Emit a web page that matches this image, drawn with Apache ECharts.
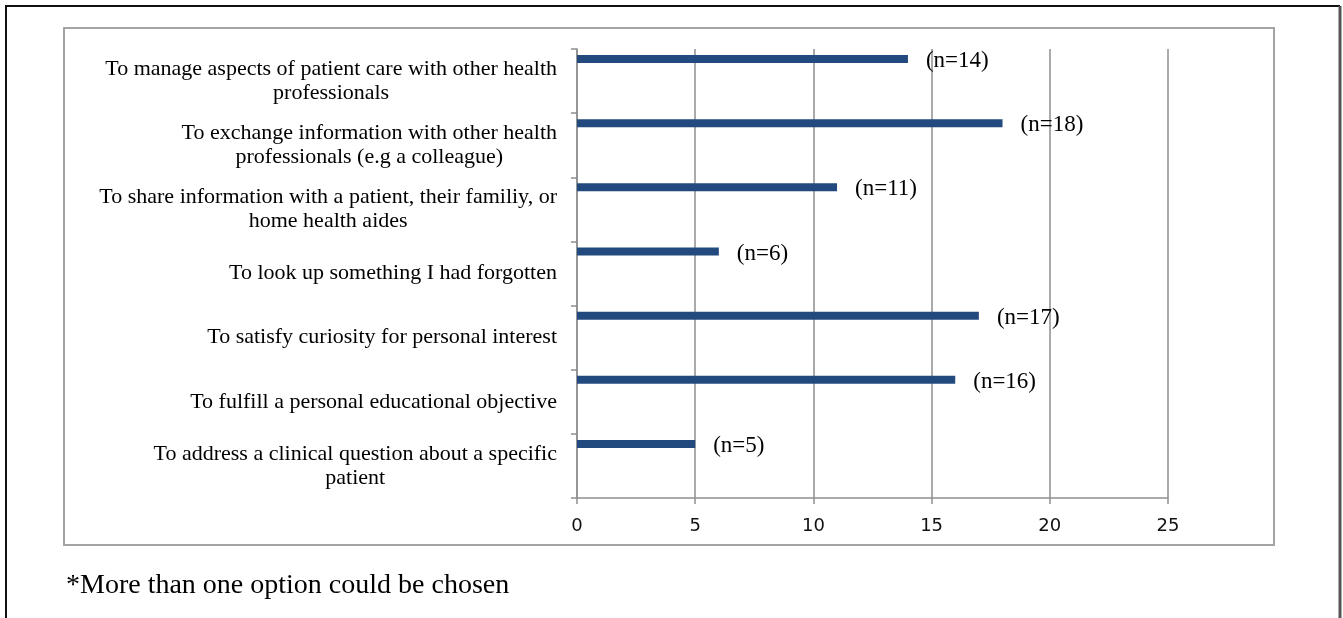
<!DOCTYPE html>
<html>
<head>
<meta charset="utf-8">
<script src="https://cdn.jsdelivr.net/npm/echarts@6/dist/echarts.min.js"></script>
<style>
  html, body { margin: 0; padding: 0; background: #fff; }
  #chart { width: 1343px; height: 618px; }
</style>
</head>
<body>
<div id="chart"></div>
<script>
// Reasons for use, listed top to bottom
const categories = [
  'To manage aspects of patient care with other health\nprofessionals',
  'To exchange information with other health\nprofessionals (e.g a colleague)',
  'To share information with a patient, their familiy, or\nhome health aides',
  'To look up something I had forgotten',
  'To satisfy curiosity for personal interest',
  'To fulfill a personal educational objective',
  'To address a clinical question about a specific\npatient'
];
const counts = [14, 18, 11, 6, 17, 16, 5];
const xTicks = [0, 5, 10, 15, 20, 25];
const footnote = '*More than one option could be chosen';

const serif = '"Liberation Serif", "Times New Roman", serif';
const gridColor = '#8e8e8e';

const chart = echarts.init(document.getElementById('chart'), null, { renderer: 'canvas' });

chart.setOption({
  backgroundColor: '#ffffff',
  animation: false,
  grid: { left: 577, top: 49, width: 591, height: 449, containLabel: false },
  xAxis: {
    type: 'value',
    min: xTicks[0],
    max: xTicks[xTicks.length - 1],
    interval: xTicks[1] - xTicks[0],
    axisLine: { show: true, lineStyle: { color: gridColor, width: 1.5 } },
    axisTick: { show: true, length: 6, lineStyle: { color: gridColor, width: 1.5 } },
    splitLine: { show: true, lineStyle: { color: gridColor, width: 1.5 } },
    axisLabel: {
      margin: 19,
      color: '#111',
      fontFamily: '"DejaVu Sans", sans-serif',
      fontSize: 18
    }
  },
  yAxis: {
    type: 'category',
    inverse: true,
    data: categories,
    axisLine: { show: true, lineStyle: { color: gridColor, width: 1.5 } },
    axisTick: { show: true, length: 6, lineStyle: { color: gridColor, width: 1.5 } },
    splitLine: { show: false },
    axisLabel: {
      margin: 20,
      align: 'right',
      formatter: function (v) {
        return v.split('\n').map(function (s) { return '{c|' + s + '}'; }).join('\n');
      },
      rich: {
        c: { align: 'center', fontFamily: serif, fontSize: 22, lineHeight: 24, color: '#000' }
      }
    }
  },
  series: [
    {
      type: 'bar',
      name: 'Responses',
      data: counts,
      barWidth: 8,
      barGap: 0,
      itemStyle: { color: '#234a7e' },
      label: {
        show: true,
        position: 'right',
        distance: 18,
        offset: [0, 2],
        formatter: function (p) { return '(n=' + p.value + ')'; },
        fontFamily: serif,
        fontSize: 23,
        color: '#000'
      }
    },
    {
      // reserves the lower part of each band so the bar sits near its top
      type: 'bar',
      name: 'spacer',
      data: [],
      barWidth: 44,
      barGap: 0,
      silent: true
    }
  ],
  graphic: [
    // inner chart frame
    {
      type: 'rect',
      silent: true,
      shape: { x: 64, y: 28, width: 1210, height: 517 },
      style: { fill: 'none', stroke: '#a3a3a3', lineWidth: 2 }
    },
    // outer page frame
    {
      type: 'polyline',
      silent: true,
      shape: { points: [[6, 618], [6, 6], [1340, 6]] },
      style: { fill: 'none', stroke: '#111', lineWidth: 2 }
    },
    {
      type: 'line',
      silent: true,
      shape: { x1: 1340, y1: 6, x2: 1340, y2: 618 },
      style: { stroke: '#555', lineWidth: 3 }
    },
    {
      type: 'text',
      silent: true,
      x: 66,
      y: 586,
      style: {
        text: footnote,
        fontFamily: serif,
        fontSize: 28,
        fill: '#000',
        textVerticalAlign: 'middle'
      }
    }
  ]
});
</script>
</body>
</html>
